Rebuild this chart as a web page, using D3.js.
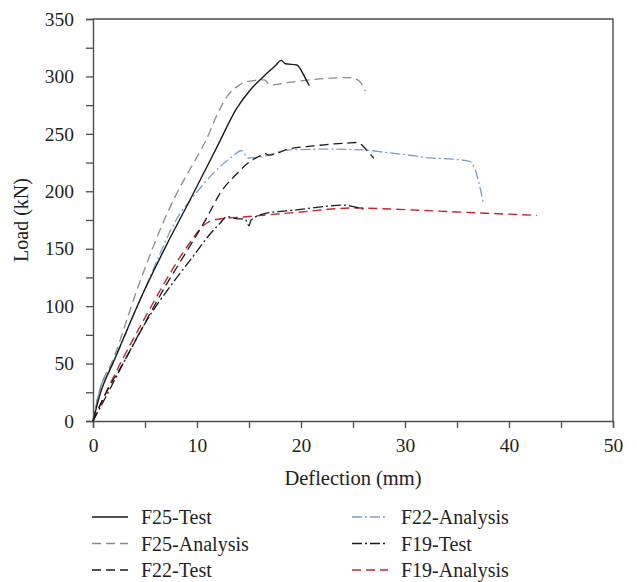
<!DOCTYPE html>
<html>
<head>
<meta charset="utf-8">
<script src="https://cdn.jsdelivr.net/npm/d3@7"></script>
<style>
  body { margin: 0; background: #fff; }
  text { font-family: "Liberation Serif", "DejaVu Serif", serif; fill: #231f20; }
</style>
</head>
<body>
<div id="chart"></div>
<script>
// data: [deflection (mm), load (kN)]
var f25Test = [[0,0],[0.7,24],[2,52],[4.8,111],[7,152],[9.3,192],[12,240],[13.8,272],[15.1,288],
  [16.4,300],[17.5,309],[18.1,314],[18.5,311],[19.6,310],[20.1,304],[20.5,297],[20.8,292]];
var f25Analysis = [[0,0],[0.5,22],[2,55],[4.3,116],[7.4,186],[8.1,199],[9.5,222],[10.9,245],
  [12,268],[13,284],[14,292],[14.8,295.5],[16.5,297],[17,292.5],[19,295],[22.8,298.5],[24.8,299],[25.6,296],[26.2,287]];
var f22Test = [[0,0],[1,20],[3,52],[7,118],[9.5,155],[11,178],[12.2,198],[13.8,215],[15.1,226],[16.1,231],
  [16.5,233],[16.9,231.5],[18.9,237],[21.2,239.5],[22.8,241],[24.4,242],[25.4,242.5],[26,239],[26.5,234],[27,228.8]];
var f22Analysis = [[0,0],[0.5,22],[2,52],[4.8,111],[8.4,181],[9.6,195],[11.6,216],[12.4,223],[13.5,231],
  [14.3,235.5],[14.9,229],[16.1,230],[18.9,236],[22.8,236.7],[26,236],[28,234],[30.2,231.7],[32.4,229],
  [34.6,228],[36.2,226],[36.7,220],[37.5,191]];
var f19Test = [[0,0],[1,17],[2.9,50],[5,85],[7.9,123],[9.6,143],[11,160],[12.2,172],[12.9,178],[14,176],
  [14.6,176],[15,170],[15.2,175],[16.7,181],[19.6,183.8],[22.5,187],[24.1,188],[25,186.7],[26.3,183.8]];
var f19Analysis = [[0,0],[1,20],[5,90],[9.3,155],[10.6,170],[11.6,175],[15,178],[20,182],[25,185.5],
  [30,184],[35,182],[42.7,179]];

var seriesNames = ["F25-Test", "F25-Analysis", "F22-Test", "F22-Analysis", "F19-Test", "F19-Analysis"];
var xTicks = [0, 5, 10, 15, 20, 25, 30, 35, 40, 45, 50];
var yTicks = [0, 25, 50, 75, 100, 125, 150, 175, 200, 225, 250, 275, 300, 325, 350];

var chart_width = 637;
var chart_height = 582;
var margin = {left: 93, right: 24, top: 19, bottom: 161};

var styles = [
  {color: "#1a1a1a", dash: null, width: 1.4},
  {color: "#8c8c8c", dash: "9,5", width: 1.3},
  {color: "#1a1a1a", dash: "9,5", width: 1.3},
  {color: "#7f9dc2", dash: "10,3,2,3", width: 1.3},
  {color: "#1a1a1a", dash: "10,3,2,3", width: 1.3},
  {color: "#c4262e", dash: "9,5", width: 1.4}
];
var allData = [f25Test, f25Analysis, f22Test, f22Analysis, f19Test, f19Analysis];

var svg = d3.select("#chart")
  .append("svg")
  .attr("width", chart_width)
  .attr("height", chart_height);

var x = d3.scaleLinear().domain([0, 50]).range([margin.left, chart_width - margin.right]);
var y = d3.scaleLinear().domain([0, 350]).range([chart_height - margin.bottom, margin.top]);

var axisColor = "#4d4d4d";

// x axis
var xAxis = svg.append("g")
  .attr("transform", "translate(0," + y(0) + ")")
  .call(d3.axisBottom(x).tickValues(xTicks).tickSize(7).tickPadding(10)
    .tickFormat(function(d) { return d % 10 === 0 ? d : ""; }));

// y axis
var yAxis = svg.append("g")
  .attr("transform", "translate(" + x(0) + ",0)")
  .call(d3.axisLeft(y).tickValues(yTicks).tickSize(7).tickPadding(12)
    .tickFormat(function(d) { return d % 50 === 0 ? d : ""; }));

[xAxis, yAxis].forEach(function(g) {
  g.selectAll("path").attr("stroke", axisColor).attr("stroke-width", 1.4);
  g.selectAll("line").attr("stroke", axisColor).attr("stroke-width", 1.3);
  g.selectAll("text").style("font-size", "19.5px").attr("fill", "#231f20");
});

// top and right frame
svg.append("path")
  .attr("d", "M" + x(0) + "," + y(350) + "H" + x(50) + "V" + y(0))
  .attr("fill", "none")
  .attr("stroke", axisColor)
  .attr("stroke-width", 1.4);

var line = d3.line()
  .x(function(d) { return x(d[0]); })
  .y(function(d) { return y(d[1]); })
  .curve(d3.curveMonotoneX);

// draw bottom to top: analysis lines under the test lines
var order = [3, 5, 1, 4, 2, 0];
order.forEach(function(i) {
  svg.append("path")
    .datum(allData[i])
    .attr("d", line)
    .attr("fill", "none")
    .attr("stroke", styles[i].color)
    .attr("stroke-width", styles[i].width)
    .attr("stroke-dasharray", styles[i].dash);
});

// axis titles
svg.append("text")
  .attr("x", (x(0) + x(50)) / 2)
  .attr("y", 485)
  .attr("text-anchor", "middle")
  .style("font-size", "20.5px")
  .text("Deflection (mm)");

svg.append("text")
  .attr("transform", "translate(28," + (y(175)) + ") rotate(-90)")
  .attr("text-anchor", "middle")
  .style("font-size", "20px")
  .text("Load (kN)");

// legend
var legend = svg.append("g");
seriesNames.forEach(function(name, i) {
  var col = i < 3 ? 0 : 1;
  var row = i % 3;
  var lx = col === 0 ? 92 : 352;
  var ly = 517 + row * 26.5;
  legend.append("line")
    .attr("x1", lx).attr("x2", lx + 36)
    .attr("y1", ly).attr("y2", ly)
    .attr("stroke", styles[i].color)
    .attr("stroke-width", styles[i].width)
    .attr("stroke-dasharray", styles[i].dash);
  legend.append("text")
    .attr("x", lx + 49)
    .attr("y", ly + 7)
    .style("font-size", "20px")
    .text(name);
});
</script>
</body>
</html>
